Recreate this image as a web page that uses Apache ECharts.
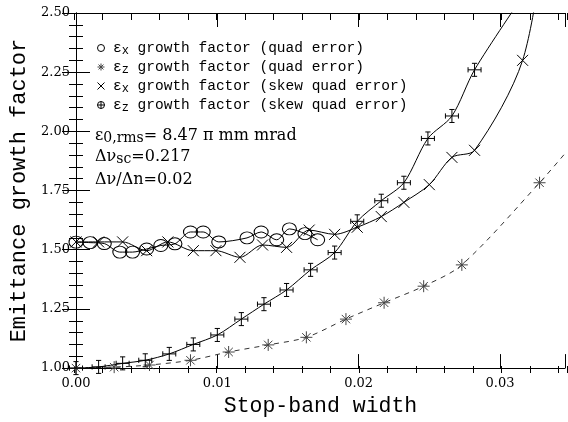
<!DOCTYPE html>
<html>
<head>
<meta charset="utf-8">
<script src="https://cdn.jsdelivr.net/npm/echarts@6/dist/echarts.min.js"></script>
<style>html,body{margin:0;padding:0;background:#fff}#c{width:568px;height:422px}</style>
</head>
<body>
<div id="c"></div>
<script>
// ---- data ----
const exQuadX = [0.0000, 0.0010, 0.0020, 0.0031, 0.0040, 0.0050, 0.0060, 0.0070, 0.0081, 0.0090, 0.0101, 0.0121, 0.0131, 0.0142, 0.0151, 0.0162, 0.0171];
const exQuadY = [1.532, 1.530, 1.526, 1.490, 1.490, 1.503, 1.518, 1.525, 1.575, 1.575, 1.533, 1.550, 1.575, 1.542, 1.588, 1.568, 1.542];

const ezQuadX = [0.0000, 0.0027, 0.0052, 0.0081, 0.0108, 0.0136, 0.0163, 0.0191, 0.0218, 0.0246, 0.0273, 0.0328, 0.0355];
const ezQuadY = [1.000, 1.004, 1.013, 1.033, 1.068, 1.098, 1.130, 1.207, 1.276, 1.346, 1.436, 1.783, 1.970];

const exSkewX = [0.0000, 0.0016, 0.0033, 0.0050, 0.0065, 0.0083, 0.0099, 0.0116, 0.0132, 0.0149, 0.0165, 0.0183, 0.0199, 0.0216, 0.0232, 0.0250, 0.0266, 0.0282, 0.0316, 0.0333];
const exSkewY = [1.533, 1.533, 1.533, 1.496, 1.533, 1.496, 1.496, 1.468, 1.520, 1.510, 1.583, 1.565, 1.595, 1.640, 1.700, 1.775, 1.890, 1.920, 2.300, 2.870];

const ezSkewX = [0.0000, 0.0016, 0.0033, 0.0049, 0.0066, 0.0083, 0.0100, 0.0117, 0.0133, 0.0149, 0.0166, 0.0183, 0.0199, 0.0216, 0.0232, 0.0249, 0.0266, 0.0282, 0.0316];
const ezSkewY = [1.000, 1.005, 1.020, 1.033, 1.060, 1.100, 1.140, 1.207, 1.270, 1.330, 1.415, 1.488, 1.620, 1.707, 1.783, 1.970, 2.065, 2.260, 2.570];

const seriesNames = [
  'εx growth factor (quad error)',
  'εz growth factor (quad error)',
  'εx growth factor (skew quad error)',
  'εz growth factor (skew quad error)'
];
const legendRich = [
  '{a|ε}{s|x}{a| growth factor (quad error)}',
  '{a|ε}{s|z}{a| growth factor (quad error)}',
  '{a|ε}{s|x}{a| growth factor (skew quad error)}',
  '{a|ε}{s|z}{a| growth factor (skew quad error)}'
];
const noteLines = [
  '{a|ε}{s|0,rms}{a|= 8.47 π mm mrad}',
  '{a|Δν}{s|sc}{a|=0.217}',
  '{a|Δν/Δn=0.02}'
];
const xTitle = 'Stop-band width';
const yTitle = 'Emittance growth factor';

// ---- chart ----
const pairs = (xs, ys) => xs.map((v, i) => [v, ys[i]]);
const X_MAX = 0.0346;
const mono = 'Liberation Mono';
const serif = 'DejaVu Serif';

const SYM_AST = 'path://M5,0L5,10M0,5L10,5M1.5,1.5L8.5,8.5M8.5,1.5L1.5,8.5';
const SYM_X = 'path://M0,0L10,10M10,0L0,10';
const SYM_BOX = 'path://M5,0L5,10M0,5L10,5M3,0L7,0M3,10L7,10M0,3L0,7M10,3L10,7';
const SYM_OPLUS = 'path://M0,5A5,5 0 1,0 10,5A5,5 0 1,0 0,5M5,0L5,10M0,5L10,5';

const openStyle = (c) => ({ color: 'rgba(0,0,0,0)', borderColor: c, borderWidth: 1 });

const xFmt = v => {
  const r = Math.round(v * 100);
  return Math.abs(v * 100 - r) < 1e-6 ? (r / 100).toFixed(2) : '';
};

const axisLineStyle = { show: true, lineStyle: { color: '#000', width: 1 } };

const chart = echarts.init(document.getElementById('c'), null, { renderer: 'canvas' });
chart.setOption({
  animation: false,
  backgroundColor: '#fff',
  grid: [
    { left: 74, right: 1, top: 13, bottom: 49 },
    { left: 74, right: 1, top: 13, bottom: 49 }
  ],
  xAxis: [
    {
      gridIndex: 0, type: 'value', position: 'bottom', min: 0, max: X_MAX, interval: 0.01,
      axisLine: axisLineStyle,
      axisTick: { show: true, inside: true, length: 14, lineStyle: { color: '#000' } },
      axisLabel: { formatter: xFmt, fontFamily: serif, fontSize: 13, color: '#000', margin: 9 },
      splitLine: { show: false },
      name: xTitle, nameLocation: 'middle', nameGap: 24,
      nameTextStyle: { fontFamily: mono, fontSize: 21.5, color: '#000' }
    },
    {
      gridIndex: 0, type: 'value', position: 'top', min: 0, max: X_MAX, interval: 0.01,
      axisLine: axisLineStyle,
      axisTick: { show: true, inside: true, length: 14, lineStyle: { color: '#000' } },
      axisLabel: { show: false }, splitLine: { show: false }
    },
    {
      gridIndex: 1, type: 'value', position: 'bottom', min: 0, max: X_MAX, interval: 0.002,
      axisLine: { show: false },
      axisTick: { show: true, inside: true, length: 7, lineStyle: { color: '#000' } },
      axisLabel: { show: false }, splitLine: { show: false }
    },
    {
      gridIndex: 1, type: 'value', position: 'top', min: 0, max: X_MAX, interval: 0.002,
      axisLine: { show: false },
      axisTick: { show: true, inside: true, length: 7, lineStyle: { color: '#000' } },
      axisLabel: { show: false }, splitLine: { show: false }
    }
  ],
  yAxis: [
    {
      gridIndex: 0, type: 'value', position: 'left', min: 1, max: 2.5, interval: 0.25,
      axisLine: axisLineStyle,
      axisTick: { show: true, inside: true, length: 14, lineStyle: { color: '#000' } },
      minorTick: { show: true, splitNumber: 5, length: 7, lineStyle: { color: '#000' } },
      axisLabel: { formatter: v => v.toFixed(2), fontFamily: serif, fontSize: 13, color: '#000', margin: 6 },
      splitLine: { show: false }, minorSplitLine: { show: false },
      name: yTitle, nameLocation: 'middle', nameGap: 46,
      nameTextStyle: { fontFamily: mono, fontSize: 22, color: '#000' }
    },
    {
      gridIndex: 0, type: 'value', position: 'right', min: 1, max: 2.5, interval: 0.25,
      axisLine: axisLineStyle,
      axisTick: { show: true, inside: true, length: 14, lineStyle: { color: '#000' } },
      minorTick: { show: true, splitNumber: 5, length: 7, lineStyle: { color: '#000' } },
      axisLabel: { show: false }, splitLine: { show: false }, minorSplitLine: { show: false }
    },
    { gridIndex: 1, type: 'value', min: 1, max: 2.5, show: false },
    { gridIndex: 1, type: 'value', min: 1, max: 2.5, show: false, position: 'right' }
  ],
  legend: {
    orient: 'vertical', left: 92, top: 34, itemWidth: 14, itemHeight: 7, itemGap: 1,
    selectedMode: false,
    formatter: name => legendRich[seriesNames.indexOf(name)],
    textStyle: {
      color: '#000', fontFamily: mono, fontSize: 14.5, lineHeight: 18,
      rich: {
        a: { fontFamily: mono, fontSize: 14.5, lineHeight: 18, color: '#000' },
        s: { fontFamily: mono, fontSize: 12, lineHeight: 8, verticalAlign: 'bottom', color: '#000' }
      }
    },
    data: [
      { name: seriesNames[0], icon: 'circle', itemStyle: openStyle('#000') },
      { name: seriesNames[1], icon: SYM_AST, itemStyle: openStyle('#444') },
      { name: seriesNames[2], icon: SYM_X, itemStyle: openStyle('#000') },
      { name: seriesNames[3], icon: SYM_OPLUS, itemStyle: openStyle('#000') }
    ]
  },
  graphic: noteLines.map((t, i) => ({
    type: 'text', left: 95, top: [128, 149, 172][i],
    style: {
      text: t, fill: '#000',
      rich: {
        a: { fontFamily: serif, fontSize: 16, lineHeight: 18, fill: '#000' },
        s: { fontFamily: serif, fontSize: 14, lineHeight: 8, verticalAlign: 'bottom', fill: '#000' }
      }
    }
  })),
  series: [
    {
      name: seriesNames[0], type: 'line', xAxisIndex: 0, yAxisIndex: 0,
      data: pairs(exQuadX, exQuadY), smooth: 0.3, showAllSymbol: true,
      symbol: 'circle', symbolSize: [14, 12],
      itemStyle: openStyle('#000'),
      lineStyle: { color: '#000', width: 1 }
    },
    {
      name: seriesNames[1], type: 'line', xAxisIndex: 0, yAxisIndex: 0,
      data: pairs(ezQuadX, ezQuadY), smooth: 0.3, showAllSymbol: true,
      symbol: SYM_AST, symbolSize: 12,
      itemStyle: openStyle('#444'),
      lineStyle: { color: '#333', width: 1, type: [5, 5] }
    },
    {
      name: seriesNames[2], type: 'line', xAxisIndex: 0, yAxisIndex: 0,
      data: pairs(exSkewX, exSkewY), smooth: 0.3, showAllSymbol: true,
      symbol: SYM_X, symbolSize: 11,
      itemStyle: openStyle('#000'),
      lineStyle: { color: '#000', width: 1 }
    },
    {
      name: seriesNames[3], type: 'line', xAxisIndex: 0, yAxisIndex: 0,
      data: pairs(ezSkewX, ezSkewY), smooth: 0.3, showAllSymbol: true,
      symbol: SYM_BOX, symbolSize: 13,
      itemStyle: openStyle('#000'),
      lineStyle: { color: '#000', width: 1 }
    }
  ]
});
</script>
</body>
</html>
